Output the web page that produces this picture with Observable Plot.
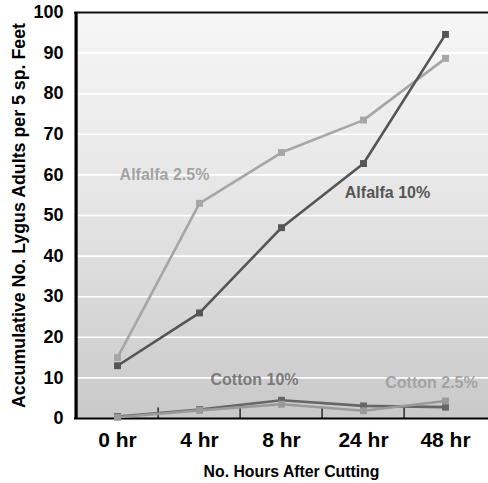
<!DOCTYPE html>
<html>
<head>
<meta charset="utf-8">
<script src="https://cdn.jsdelivr.net/npm/d3@7"></script>
<script src="https://cdn.jsdelivr.net/npm/@observablehq/plot@0.6"></script>
<style>
  html, body { margin: 0; padding: 0; background: #ffffff; }
  #chart svg { display: block; }
</style>
</head>
<body>
<div id="chart"></div>
<script>
// ---- data ----
const hours = ["0 hr", "4 hr", "8 hr", "24 hr", "48 hr"];
const alfalfa25 = [15, 53, 65.5, 73.5, 88.7];
const alfalfa10 = [13, 26, 47, 62.8, 94.6];
const cotton10 = [0.5, 2.2, 4.5, 3.1, 2.8];
const cotton25 = [0.3, 2.0, 3.5, 1.9, 4.3];
const seriesNames = ["Alfalfa 2.5%", "Alfalfa 10%", "Cotton 10%", "Cotton 2.5%"];
const seriesValues = [alfalfa25, alfalfa10, cotton10, cotton25];
const seriesColors = ["#a6a6a6", "#555555", "#666666", "#9a9a9a"];
const yTicks = [0, 10, 20, 30, 40, 50, 60, 70, 80, 90, 100];
const gridValues = [10, 20, 30, 40, 50, 60, 70, 80, 90];
// label anchors (category, value) for series names
const labelAt = [
  {name: "Alfalfa 2.5%", x: "4 hr", y: 60, dx: -35, color: "#a3a3a3"},
  {name: "Alfalfa 10%", x: "24 hr", y: 55.5, dx: 24, color: "#555555"},
  {name: "Cotton 10%", x: "8 hr", y: 9.6, dx: -27, color: "#7a7a7a"},
  {name: "Cotton 2.5%", x: "48 hr", y: 8.8, dx: -14, color: "#a3a3a3"}
];

const rows = [];
seriesNames.forEach((s, i) => hours.forEach((h, j) => rows.push({series: s, hour: h, value: seriesValues[i][j]})));

const W = 488, H = 483, mL = 74, mR = 0, mT = 12, mB = 65;
const step = (W - mL - mR) / hours.length;
const font = "'Liberation Sans', Arial, Helvetica, sans-serif";

const chart = Plot.plot({
  width: W, height: H,
  marginLeft: mL, marginRight: mR, marginTop: mT, marginBottom: mB,
  style: {fontFamily: font, background: "#ffffff", color: "#000"},
  x: {type: "point", domain: hours, padding: 0.5},
  y: {domain: [0, 100]},
  color: {domain: seriesNames, range: seriesColors},
  marks: [
    Plot.frame({fill: "url(#bgGrad)", stroke: "none"}),
    Plot.ruleY(gridValues, {stroke: "#ffffff", strokeWidth: 1.6}),
    // boundary ticks along the x axis
    Plot.ruleX(hours.slice(1), {x: d => d, dx: -step / 2, y1: 0, y2: 2.6, stroke: "#111", strokeWidth: 1.3}),
    // axis lines
    Plot.ruleY([0], {stroke: "#000", strokeWidth: 2.2}),
    Plot.ruleY([100], {stroke: "#111", strokeWidth: 2.2}),
    Plot.ruleX([hours[0]], {dx: -step / 2, y1: 0, y2: 100, stroke: "#000", strokeWidth: 3.2}),
    Plot.axisY(yTicks, {tickSize: 0, tickPadding: 11, fontSize: 18, fontWeight: "bold", label: null}),
    Plot.axisX({tickSize: 0, tickPadding: 14, fontSize: 21, fontWeight: "bold", label: null}),
    Plot.line(rows, {x: "hour", y: "value", z: "series", stroke: "series", strokeWidth: 2.6}),
    Plot.dot(rows, {x: "hour", y: "value", fill: "series", symbol: "square", r: 3.9}),
    ...labelAt.map(l => Plot.text([l], {x: "x", y: "y", dx: l.dx, text: "name", fill: l.color, fontSize: 16, fontWeight: "bold"})),
    Plot.text(["Accumulative No. Lygus Adults per 5 sp. Feet"], {frameAnchor: "left", textAnchor: "middle", rotate: -90, dx: -55, fontSize: 17.8, fontWeight: "bold", fill: "#000"}),
    Plot.text(["No. Hours After Cutting"], {frameAnchor: "bottom", textAnchor: "middle", dx: 10, dy: 58, fontSize: 15.8, fontWeight: "bold", fill: "#000"})
  ]
});

// gradient background definition for the plot frame
const ns = "http://www.w3.org/2000/svg";
const defs = document.createElementNS(ns, "defs");
const grad = document.createElementNS(ns, "linearGradient");
grad.setAttribute("id", "bgGrad");
grad.setAttribute("x1", "0"); grad.setAttribute("y1", "0");
grad.setAttribute("x2", "0"); grad.setAttribute("y2", "1");
[["0%", "#f6f6f6"], ["45%", "#e6e6e6"], ["100%", "#c9c9c9"]].forEach(([o, c]) => {
  const s = document.createElementNS(ns, "stop");
  s.setAttribute("offset", o); s.setAttribute("stop-color", c);
  grad.appendChild(s);
});
defs.appendChild(grad);
chart.insertBefore(defs, chart.firstChild);

document.getElementById("chart").appendChild(chart);
</script>
</body>
</html>
